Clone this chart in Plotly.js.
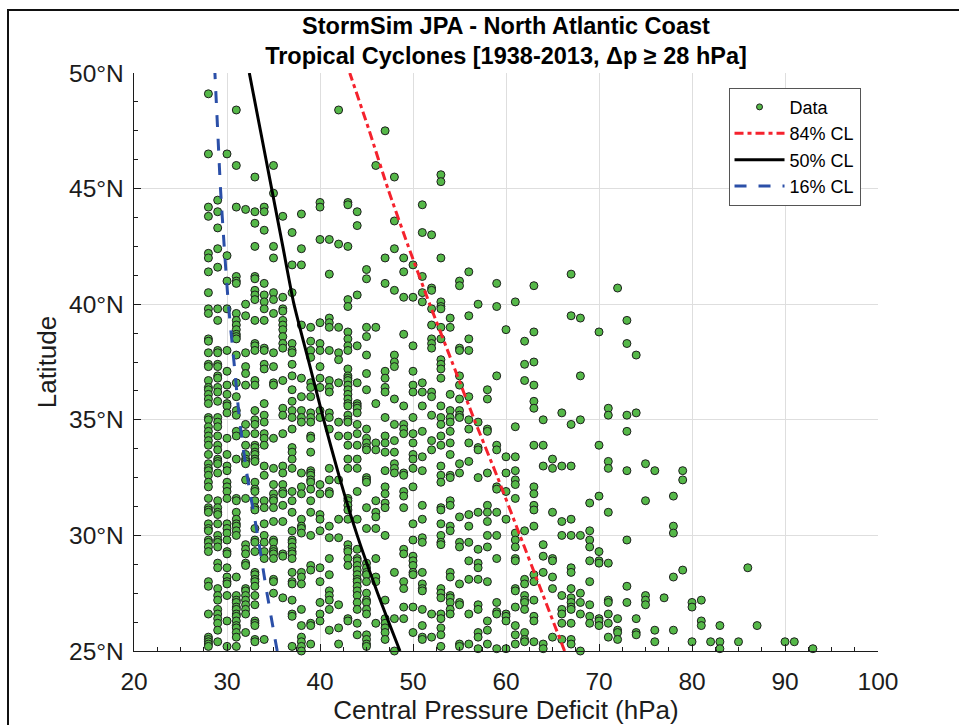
<!DOCTYPE html>
<html>
<head>
<meta charset="utf-8">
<script src="https://cdn.plot.ly/plotly-3.0.1.min.js"></script>
<style>
  html, body { margin: 0; padding: 0; background: #fff; }
  #wrap { position: relative; width: 959px; height: 725px; overflow: hidden; }
  #chart { position: absolute; left: 0; top: 0; width: 959px; height: 725px; }
  #frame { position: absolute; left: 7px; top: 9px; right: -4px; bottom: -4px;
           border-left: 2px solid #111; border-top: 2px solid #111; pointer-events: none; }
</style>
</head>
<body>
<div id="wrap">
  <div id="chart"></div>
  <div id="frame"></div>
</div>
<script>
// Central pressure deficit columns (hPa) and the storm latitudes (deg N) recorded at each
const deficitCols = [28, 29, 30, 31, 32, 33, 34, 35, 36, 37, 38, 39, 40, 41, 42, 43, 44, 45,
  46, 47, 48, 49, 50, 51, 52, 53, 54, 55, 56, 57, 58, 59, 60, 61, 62, 63, 64, 65, 66, 67, 68,
  69, 70, 71, 72, 73, 74, 75, 76, 77, 78, 79, 80, 81, 82, 83, 85, 86, 87, 90, 91, 93];

const latByCol = [
  [49.1, 46.5, 44.2, 43.8, 42.2, 42.0, 41.4, 40.5, 39.8, 39.6, 38.5, 38.4, 37.9, 37.4, 37.3, 36.7, 36.4, 36.3, 36.1, 35.9, 35.7, 35.1, 35.0, 34.7, 34.5, 34.3, 34.1, 33.9, 33.5, 33.1, 32.9, 32.8, 32.6, 32.3, 32.1, 31.6, 31.2, 31.1, 31.0, 30.5, 30.3, 30.2, 29.8, 29.7, 29.5, 29.3, 28.0, 27.8, 26.6, 25.6, 25.5, 25.4, 25.3, 25.2],
  [44.5, 44.0, 43.3, 42.4, 41.6, 39.8, 39.3, 38.0, 37.9, 37.4, 37.3, 36.9, 36.8, 36.4, 36.2, 35.8, 35.1, 34.9, 34.7, 34.3, 33.9, 33.7, 33.3, 33.2, 33.1, 32.7, 31.5, 31.2, 31.0, 30.9, 30.5, 30.0, 29.8, 29.7, 29.5, 28.8, 28.6, 27.7, 27.4, 27.2, 26.8, 26.6, 26.4, 26.2, 25.9, 25.4],
  [46.5, 42.1, 41.0, 39.8, 38.0, 37.1, 36.5, 36.1, 35.7, 35.6, 35.3, 34.2, 33.5, 33.0, 32.8, 32.3, 32.1, 31.9, 31.6, 30.5, 30.3, 30.1, 29.8, 29.3, 29.2, 28.6, 28.2, 28.0, 27.9, 27.4, 26.3, 25.2],
  [48.4, 46.0, 44.2, 41.2, 41.0, 40.9, 39.6, 39.3, 39.1, 38.9, 38.7, 38.6, 38.5, 37.8, 36.6, 36.0, 35.4, 35.2, 34.5, 34.3, 33.3, 31.6, 31.5, 31.0, 30.7, 30.5, 30.4, 30.2, 30.0, 28.2, 27.4, 27.2, 27.1, 26.9, 26.8, 26.6, 26.5, 26.3, 26.1, 26.0, 25.8, 25.6, 25.2],
  [44.1, 40.0, 39.5, 37.9, 37.3, 37.0, 36.5, 34.8, 34.4, 33.9, 33.5, 33.3, 33.2, 33.1, 32.4, 31.6, 29.6, 29.4, 29.2, 28.8, 28.7, 27.7, 27.6, 27.4, 27.2, 27.0, 26.8, 26.6, 25.8],
  [45.5, 44.0, 43.5, 42.5, 41.2, 41.1, 40.6, 40.4, 40.2, 39.3, 38.3, 38.2, 38.0, 36.7, 36.5, 35.4, 35.0, 34.8, 34.4, 33.9, 33.8, 33.6, 33.5, 33.3, 33.2, 32.3, 32.0, 31.9, 31.5, 31.2, 31.1, 30.3, 29.8, 29.7, 29.3, 28.4, 28.3, 28.1, 28.0, 27.8, 27.4, 27.0, 26.3, 26.2, 26.1, 25.5, 25.4],
  [44.2, 44.0, 43.2, 40.9, 40.4, 40.1, 39.8, 39.3, 38.1, 38.0, 37.4, 37.2, 35.7, 35.2, 34.9, 34.4, 34.2, 33.9, 33.0, 32.6, 31.5, 31.2, 30.5, 30.0, 29.7, 29.3, 29.0, 25.5],
  [46.0, 44.8, 42.5, 42.0, 40.5, 40.2, 39.6, 37.9, 37.3, 36.6, 36.5, 34.2, 32.9, 32.2, 31.8, 31.6, 31.5, 31.2, 30.6, 29.8, 29.7, 29.4, 29.3, 29.2, 29.0, 28.1, 28.0, 27.5],
  [43.8, 40.3, 39.8, 39.7, 39.3, 39.1, 38.9, 38.6, 38.3, 38.1, 36.7, 35.5, 35.2, 34.4, 33.0, 32.7, 32.2, 31.9, 31.8, 31.3, 30.6, 29.2, 29.1, 27.3],
  [43.1, 41.7, 40.5, 38.3, 38.0, 37.9, 37.4, 36.9, 36.3, 35.8, 35.4, 35.1, 34.6, 33.8, 33.6, 33.3, 32.9, 31.9, 31.5, 31.0, 30.2, 29.8, 29.7, 29.5, 29.3, 29.2, 29.0, 28.4, 28.0, 27.9, 27.2, 26.6, 26.5, 25.2],
  [43.9, 42.4, 41.7, 39.1, 36.8, 36.0, 35.4, 35.1, 34.9, 32.7, 32.1, 31.8, 30.7, 30.4, 30.3, 30.1, 28.4, 28.2, 27.9, 26.8, 26.1, 25.6, 25.4, 25.2, 25.0],
  [39.0, 38.4, 38.0, 37.7, 36.6, 36.4, 36.0, 35.3, 35.1, 34.9, 34.3, 34.2, 33.6, 32.8, 32.7, 32.6, 32.4, 32.3, 32.0, 31.5, 31.0, 30.0, 28.7, 28.5, 26.2, 26.1, 25.3],
  [44.4, 44.2, 42.8, 39.2, 38.3, 38.0, 37.3, 36.8, 36.4, 35.4, 35.1, 32.2, 31.8, 30.9, 30.7, 30.2, 28.6, 28.0, 27.1, 26.6, 26.3],
  [42.8, 41.3, 39.4, 39.2, 39.0, 38.0, 36.7, 36.4, 36.2, 35.3, 35.1, 34.6, 32.9, 32.4, 31.9, 31.8, 30.4, 29.9, 29.0, 28.3, 27.6, 27.4, 27.2, 26.8, 25.9],
  [48.4, 42.6, 39.0, 37.9, 37.6, 36.6, 34.9, 34.3, 32.4, 30.7, 29.9, 27.0, 26.0, 25.3],
  [44.4, 44.3, 42.5, 40.2, 39.9, 38.8, 38.5, 38.2, 38.0, 37.2, 36.9, 36.8, 36.7, 36.5, 36.3, 36.1, 35.9, 35.7, 35.6, 35.2, 35.0, 34.9, 34.3, 33.9, 33.3, 32.9, 31.6, 31.5, 31.3, 31.1, 30.7, 29.6, 29.4, 29.3, 29.0, 28.7, 26.4, 26.3],
  [44.0, 43.4, 40.4, 38.2, 36.6, 35.7, 35.6, 35.5, 35.3, 34.8, 34.4, 33.9, 33.3, 32.9, 31.9, 30.7, 29.4, 29.0, 28.9, 28.7, 28.5, 28.3, 28.1, 28.0, 27.8, 27.6, 27.4, 27.1, 26.8, 26.2, 25.7],
  [41.5, 41.1, 39.0, 38.6, 37.8, 37.0, 36.3, 34.6, 34.2, 34.0, 33.8, 33.7, 32.5, 32.4, 32.3, 31.2, 30.3, 28.8, 28.6, 28.4, 28.3, 28.0, 27.5, 27.2, 27.1, 26.8, 26.6, 25.7, 25.5, 25.3, 25.2],
  [46.0, 39.0, 35.7, 34.0, 33.7, 31.5, 31.0, 30.8, 30.3, 29.0, 28.2, 28.0, 26.2],
  [47.5, 42.0, 40.9, 37.1, 36.8, 36.4, 36.2, 35.1, 34.3, 34.0, 33.6, 32.8, 32.1, 31.8, 31.4, 31.2, 30.0, 27.2, 26.4, 26.2, 26.0, 25.8, 25.5],
  [45.5, 43.6, 42.4, 40.6, 37.8, 37.5, 37.3, 35.9, 34.8, 34.1, 33.6, 33.1, 32.9, 32.7, 28.4, 26.4, 25.0],
  [42.0, 41.4, 40.3, 38.7, 35.6, 34.8, 34.6, 34.4, 32.7, 32.6, 31.9, 31.7, 31.2, 29.4, 29.2, 28.0, 27.7, 26.9, 26.4],
  [41.7, 40.3, 38.2, 37.1, 36.5, 36.2, 35.1, 34.4, 34.0, 33.5, 33.3, 32.9, 32.1, 30.5, 29.8, 29.1, 28.9, 28.7, 28.4, 28.3, 26.9, 25.8],
  [44.3, 43.1, 41.2, 40.5, 40.1, 36.6, 36.2, 35.6, 34.5, 33.4, 32.8, 31.3, 30.7, 29.9, 29.7, 28.4, 27.9, 27.7, 27.6, 26.8, 26.1, 25.6, 25.5],
  [43.0, 40.7, 40.6, 39.8, 39.1, 38.5, 38.3, 38.1, 36.2, 36.0, 35.2, 34.1, 33.7, 26.6, 25.6],
  [45.6, 45.3, 42.0, 40.1, 39.9, 39.8, 39.0, 38.5, 37.6, 37.4, 37.2, 36.8, 35.6, 35.1, 34.8, 34.3, 33.9, 33.0, 32.6, 32.3, 31.2, 31.1, 30.5, 30.0, 29.7, 29.6, 27.7, 27.5, 27.3, 26.6, 26.4, 26.0, 25.7, 25.2],
  [39.4, 39.0, 36.1, 35.4, 35.1, 34.9, 34.5, 34.0, 33.5, 32.6, 32.5, 31.5, 31.3, 30.4, 30.2, 28.4, 28.2, 27.4, 27.3, 27.1, 26.8, 26.6],
  [41.0, 40.8, 38.1, 38.0, 36.9, 36.5, 35.9, 35.4, 35.2, 35.1, 33.1, 32.7, 30.8, 29.7, 29.5, 27.9, 27.1, 27.0, 25.3, 25.2],
  [41.4, 39.5, 38.5, 38.0, 36.0, 35.0, 34.6, 34.0, 33.2, 30.9, 30.4, 29.7, 28.9, 28.1, 26.6, 25.3],
  [40.0, 34.9, 33.8, 33.7, 32.5, 31.0, 29.4, 28.8, 28.6, 28.1, 27.0, 26.8, 25.8, 25.6, 25.1],
  [36.3, 35.9, 34.6, 34.5, 32.7, 31.3, 31.0, 30.6, 30.0, 29.5, 28.0, 26.3, 25.9, 25.3],
  [40.9, 39.9, 36.9, 33.9, 33.7, 32.1, 32.0, 31.0, 30.0, 29.0, 27.1, 26.7, 26.6, 25.1],
  [38.9, 33.4, 32.7, 31.9, 30.7, 26.6, 26.5, 26.3, 25.1],
  [40.1, 34.7, 33.4, 32.8, 32.4, 32.2, 31.6, 30.1, 29.8, 29.5, 29.0, 28.9, 27.7, 27.6, 26.9, 26.1, 25.7, 25.3],
  [38.4, 37.4, 36.7, 30.2, 28.1, 27.9, 27.4, 27.2, 27.1, 26.8, 25.8, 25.5, 25.4],
  [40.8, 38.8, 37.5, 36.5, 35.8, 35.5, 33.9, 32.1, 31.8, 31.3, 31.1, 30.4, 28.3, 28.0, 27.2, 26.5, 26.3, 25.4],
  [35.0, 33.9, 33.0, 29.6, 29.1, 28.4, 25.3, 25.1],
  [33.3, 32.9, 31.0, 29.0, 28.9, 28.2, 27.7, 25.6],
  [35.3, 33.0, 30.6, 30.0, 27.4, 26.8, 26.6, 26.2, 25.5],
  [41.3, 39.5, 34.8, 33.0, 30.7, 30.0, 28.6, 28.4, 27.7, 27.3, 27.1, 26.9, 26.8, 26.2, 25.5, 25.3],
  [39.4, 36.9, 35.0, 30.0, 27.5, 27.1, 26.6, 25.0],
  [31.4, 30.2, 29.8, 29.5, 28.9, 28.0, 27.0, 26.5, 26.2],
  [38.8, 33.9, 31.7, 29.3, 28.9, 28.8, 26.4, 26.3, 26.1],
  [35.5, 35.2, 33.2, 32.9, 31.0, 28.8, 27.2, 27.1, 26.6, 26.2, 25.6],
  [40.7, 26.4, 25.9, 25.8, 25.5],
  [39.3, 38.3, 35.2, 34.5, 32.8, 29.8, 27.8, 27.1],
  [37.8, 35.3, 26.4, 25.8, 25.7],
  [33.1, 31.5, 27.4, 27.2, 27.0],
  [32.8, 25.9, 25.4],
  [27.3],
  [31.7, 30.4, 30.1, 28.2, 25.9],
  [32.8, 32.4, 28.5],
  [27.1, 26.9, 25.4],
  [27.2, 26.3, 26.1],
  [25.4],
  [26.1, 25.4, 25.1],
  [25.4],
  [28.6],
  [26.1],
  [25.4],
  [25.4],
  [25.1]
];

// Confidence-limit curves: pressure deficit (hPa) at each latitude
const clLat = [25, 27.5, 30, 32.5, 35, 37.5, 40, 42.5, 45, 47.5, 50];
const cl84 = [66.3, 63.9, 61.5, 59.1, 56.6, 54.2, 51.8, 49.5, 47.3, 45.3, 43.2];
const cl50 = [48.6, 46.2, 44.0, 42.1, 40.4, 38.8, 37.2, 36.0, 34.8, 33.6, 32.4];
const cl16 = [35.4, 34.3, 33.3, 32.2, 31.35, 30.75, 30.15, 29.7, 29.3, 29.0, 28.7];

// Axis ticks
const xTicks = [20, 30, 40, 50, 60, 70, 80, 90, 100];
const yTicks = [25, 30, 35, 40, 45, 50];
const yTickLabels = ['25°N', '30°N', '35°N', '40°N', '45°N', '50°N'];

// Flatten the columns into point lists
const ptX = [], ptY = [];
deficitCols.forEach((dp, i) => {
  latByCol[i].forEach(lat => { ptX.push(dp); ptY.push(lat); });
});

const FONT = 'Arial, "Liberation Sans", Helvetica, sans-serif';
const AXIS_COL = '#1c1c1c';
const GREEN = '#55b848';

const traces = [
  { // legend entry for the storm points (small marker as in the key)
    type: 'scatter', mode: 'markers', name: 'Data',
    x: [null], y: [null],
    marker: { size: 6, color: GREEN, line: { color: '#1e1e1e', width: 1 } },
    hoverinfo: 'skip'
  },
  {
    type: 'scatter', mode: 'markers', name: 'Data', showlegend: false,
    x: ptX, y: ptY, cliponaxis: false,
    marker: { size: 8, color: GREEN, line: { color: '#1e1e1e', width: 1 } }
  },
  {
    type: 'scatter', mode: 'lines', name: '84% CL',
    x: cl84, y: clLat,
    line: { color: '#f5222d', width: 3, dash: '9px,4px,4px,4px', shape: 'spline', smoothing: 0.6 }
  },
  {
    type: 'scatter', mode: 'lines', name: '50% CL',
    x: cl50, y: clLat,
    line: { color: '#000000', width: 3, shape: 'spline', smoothing: 0.6 }
  },
  {
    type: 'scatter', mode: 'lines', name: '16% CL',
    x: cl16, y: clLat,
    line: { color: '#2b4fa8', width: 3, dash: '12px,12px', shape: 'spline', smoothing: 0.6 }
  }
];

const layout = {
  width: 959, height: 725,
  margin: { l: 134, r: 81, t: 73, b: 74 },
  paper_bgcolor: '#ffffff', plot_bgcolor: '#ffffff',
  font: { family: FONT, color: AXIS_COL },
  showlegend: true,
  title: {
    text: '<b>StormSim JPA - North Atlantic Coast</b><br><b>Tropical Cyclones [1938-2013, Δp ≥ 28 hPa]</b>',
    font: { family: FONT, size: 23.5, color: '#000000' },
    x: 0.5, xref: 'paper', xanchor: 'center',
    y: 0.9535, yref: 'container', yanchor: 'top'
  },
  xaxis: {
    range: [20, 100], tickmode: 'array', tickvals: xTicks,
    ticks: 'inside', ticklen: 7, tickwidth: 1, tickcolor: AXIS_COL,
    ticklabelstandoff: 8,
    showline: true, linecolor: AXIS_COL, linewidth: 1.3,
    showgrid: true, gridcolor: '#dedede', gridwidth: 1, zeroline: false,
    tickfont: { family: FONT, size: 24.5, color: AXIS_COL },
    title: { text: 'Central Pressure Deficit (hPa)', font: { family: FONT, size: 26, color: AXIS_COL }, standoff: 8 },
    minor: { tickmode: 'linear', tick0: 20, dtick: 2.5, ticks: 'inside', ticklen: 4, tickwidth: 1, tickcolor: AXIS_COL, showgrid: false }
  },
  yaxis: {
    range: [25, 50], tickmode: 'array', tickvals: yTicks, ticktext: yTickLabels,
    ticks: 'inside', ticklen: 7, tickwidth: 1, tickcolor: AXIS_COL,
    ticklabelstandoff: 4,
    showline: true, linecolor: AXIS_COL, linewidth: 1.3,
    showgrid: true, gridcolor: '#dedede', gridwidth: 1, zeroline: false,
    tickfont: { family: FONT, size: 24.5, color: AXIS_COL },
    title: { text: 'Latitude', font: { family: FONT, size: 26, color: AXIS_COL }, standoff: 5 },
    minor: { tickmode: 'linear', tick0: 25, dtick: 1.25, ticks: 'inside', ticklen: 4, tickwidth: 1, tickcolor: AXIS_COL, showgrid: false }
  },
  legend: {
    x: 0.9765, xanchor: 'right', y: 0.9746, yanchor: 'top',
    bgcolor: '#ffffff', bordercolor: '#555555', borderwidth: 1,
    font: { family: FONT, size: 18, color: '#000000' },
    itemwidth: 50, tracegroupgap: 0
  }
};

Plotly.newPlot('chart', traces, layout, { staticPlot: true, displayModeBar: false });
</script>
</body>
</html>
